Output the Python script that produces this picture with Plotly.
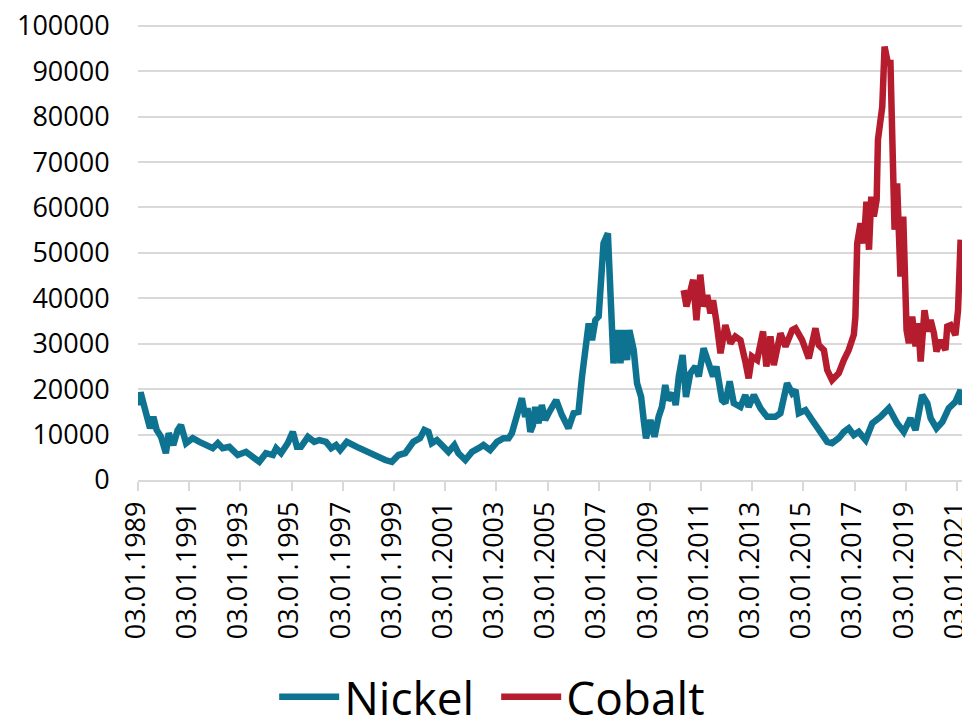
import pandas as pd
import plotly.graph_objects as go

# ---- data; dates given as decimal years ----
nickel_years = [
    1989.00, 1989.04, 1989.10, 1989.25, 1989.38, 1989.47, 1989.60, 1989.73, 1989.90,
    1990.09, 1990.20, 1990.38, 1990.55, 1990.68, 1990.88, 1991.14, 1991.40, 1991.66,
    1991.92, 1992.12, 1992.31, 1992.57, 1992.90, 1993.22, 1993.48, 1993.74, 1994.00,
    1994.27, 1994.40, 1994.59, 1994.85, 1995.05, 1995.21, 1995.37, 1995.64, 1995.89,
    1996.09, 1996.35, 1996.55, 1996.74, 1996.90, 1997.16, 1997.55, 1997.94, 1998.33,
    1998.66, 1998.92, 1999.18, 1999.44, 1999.76, 2000.02, 2000.19, 2000.35, 2000.48,
    2000.68, 2000.94, 2001.13, 2001.36, 2001.52, 2001.79, 2002.05, 2002.31, 2002.50,
    2002.76, 2003.03, 2003.28, 2003.48, 2003.61, 2003.74, 2003.87, 2004.00, 2004.13,
    2004.22, 2004.33, 2004.43, 2004.52, 2004.65, 2004.78, 2004.91, 2005.11, 2005.34,
    2005.56, 2005.82, 2006.02, 2006.21, 2006.35, 2006.48, 2006.61, 2006.74, 2006.87,
    2007.00, 2007.09, 2007.19, 2007.36, 2007.46, 2007.58, 2007.74, 2007.85, 2007.98,
    2008.11, 2008.20, 2008.37, 2008.50, 2008.66, 2008.76, 2008.85, 2009.02, 2009.18,
    2009.34, 2009.47, 2009.60, 2009.71, 2009.90, 2010.01, 2010.13, 2010.28, 2010.41,
    2010.58, 2010.78, 2010.91, 2011.10, 2011.30, 2011.47, 2011.60, 2011.82, 2011.95,
    2012.12, 2012.28, 2012.54, 2012.73, 2012.86, 2013.06, 2013.32, 2013.58, 2013.90,
    2014.10, 2014.36, 2014.56, 2014.69, 2014.82, 2015.08, 2015.34, 2015.67, 2015.93,
    2016.12, 2016.38, 2016.58, 2016.77, 2016.97, 2017.16, 2017.43, 2017.69, 2018.01,
    2018.34, 2018.66, 2018.92, 2019.18, 2019.38, 2019.64, 2019.84, 2019.97, 2020.20,
    2020.43, 2020.68, 2020.94, 2021.14, 2021.18,
]
nickel_values = [
    19000, 16500, 19300, 16500, 13900, 11400, 13900, 11000, 9500,
    5900, 10300, 7700, 11000, 12100, 8100, 9200, 8400, 7700,
    7000, 8100, 7000, 7300, 5500, 6200, 5100, 4000, 5900,
    5500, 7000, 5900, 8100, 10600, 7300, 7300, 9500, 8400,
    8800, 8400, 7000, 7700, 6600, 8400, 7300, 6200, 5500,
    4400, 4000, 5500, 5900, 8400, 9200, 11000, 10600, 8100,
    8800, 7000, 6200, 7700, 5900, 4400, 6200, 7000, 7700,
    6600, 8400, 9200, 9200, 10300, 12500, 14700, 18000, 13900,
    15800, 10600, 12000, 16100, 12500, 16500, 13200, 15400, 17600,
    14300, 11400, 14700, 15000, 22800, 29400, 34500, 30800, 35200,
    36000, 42600, 52100, 54300, 42600, 25700, 33000, 25700, 33000,
    26400, 33000, 28600, 21300, 18300, 13200, 9200, 13200, 9500,
    13900, 16100, 20900, 17600, 19100, 16500, 22800, 27500, 18300,
    23500, 25000, 22800, 29000, 25700, 22800, 25000, 17600, 16900,
    21700, 16900, 16100, 18700, 16100, 18700, 15800, 13900, 13900,
    14700, 21300, 19100, 19800, 14700, 15400, 13200, 10300, 8400,
    8100, 9200, 10600, 11400, 9900, 10600, 8800, 12500, 13900,
    15800, 12500, 10600, 13600, 11000, 18700, 16900, 13600, 11400,
    12800, 15800, 17200, 19800, 16500,
]

cobalt_years = [
    2010.32, 2010.43, 2010.56, 2010.69, 2010.82, 2010.97, 2011.10, 2011.24, 2011.37,
    2011.47, 2011.60, 2011.76, 2011.95, 2012.15, 2012.34, 2012.54, 2012.73, 2012.86,
    2012.99, 2013.19, 2013.42, 2013.55, 2013.71, 2013.84, 2014.10, 2014.30, 2014.56,
    2014.69, 2014.95, 2015.21, 2015.47, 2015.60, 2015.80, 2015.93, 2016.12, 2016.38,
    2016.58, 2016.77, 2016.97, 2017.03, 2017.10, 2017.23, 2017.36, 2017.46, 2017.56,
    2017.65, 2017.75, 2017.86, 2017.91, 2018.01, 2018.08, 2018.17, 2018.30, 2018.40,
    2018.47, 2018.56, 2018.66, 2018.79, 2018.90, 2019.03, 2019.12, 2019.25, 2019.38,
    2019.48, 2019.58, 2019.73, 2019.86, 2019.97, 2020.10, 2020.20, 2020.36, 2020.55,
    2020.62, 2020.75, 2020.94, 2021.04, 2021.14,
]
cobalt_values = [
    41800, 38200, 41100, 44100, 35200, 45200, 38200, 40700, 36700,
    39600, 34900, 27900, 34100, 30100, 31600, 30800, 26100, 22400,
    27200, 26400, 32700, 25000, 31600, 25300, 32300, 29400, 33000,
    33400, 30800, 26800, 33400, 29700, 28600, 24200, 22000, 23500,
    26400, 28600, 32000, 36000, 52100, 56500, 52100, 61300, 50700,
    62400, 58000, 61700, 74900, 79300, 82200, 95400, 91800, 91800,
    68300, 55100, 65300, 44800, 58000, 33000, 30100, 36000, 29400,
    34500, 26100, 37400, 32700, 35200, 32300, 28300, 30800, 28600,
    33800, 34100, 31900, 37400, 52900,
]

y_ticks = [0, 10000, 20000, 30000, 40000, 50000, 60000, 70000, 80000, 90000, 100000]


def to_dates(years):
    out = []
    for y in years:
        base = int(y)
        out.append(pd.Timestamp(year=base, month=1, day=3) + pd.Timedelta(days=(y - base) * 365.25))
    return out


NICKEL_COLOR = "rgb(14,115,145)"
COBALT_COLOR = "rgb(181,28,45)"
GRID = "#D9D9D9"
FONT = "Open Sans"

fig = go.Figure()
fig.add_trace(go.Scatter(x=to_dates(nickel_years), y=nickel_values, mode="lines", name="Nickel",
                         line=dict(color=NICKEL_COLOR, width=6.5)))
fig.add_trace(go.Scatter(x=to_dates(cobalt_years), y=cobalt_values, mode="lines", name="Cobalt",
                         line=dict(color=COBALT_COLOR, width=6.5)))

fig.update_layout(
    width=962, height=713,
    margin=dict(l=130, r=8, t=16, b=241, autoexpand=False),
    paper_bgcolor="white", plot_bgcolor="white",
    font=dict(family=FONT, color="#000000", size=27),
    showlegend=True,
    legend=dict(orientation="h", xref="container", yref="container",
                x=0.2767, xanchor="left", y=0.034, yanchor="middle",
                font=dict(size=46, family=FONT), itemwidth=60,
                entrywidth=147, entrywidthmode="pixels",
                bgcolor="rgba(0,0,0,0)"),
)
fig.update_xaxes(
    type="date", range=["1989-01-03", "2021-03-15"],
    tick0="1989-01-03", dtick="M24", tickformat="%d.%m.%Y", tickangle=-90,
    showgrid=False, showline=True, linecolor=GRID, linewidth=1.5,
    ticks="outside", ticklen=9, tickcolor=GRID, tickwidth=1.5,
    tickfont=dict(size=27), automargin=False, ticklabeloverflow="allow",
    ticklabelshift=-2,
)
fig.update_yaxes(
    range=[0, 100400], tickvals=y_ticks, tickformat="d",
    showgrid=True, gridcolor=GRID, gridwidth=1.5, zeroline=False, showline=False,
    ticks="outside", ticklen=22, tickcolor="rgba(0,0,0,0)",
    tickfont=dict(size=27), automargin=False, ticklabeloverflow="allow",
)

fig.write_html("out.html")
